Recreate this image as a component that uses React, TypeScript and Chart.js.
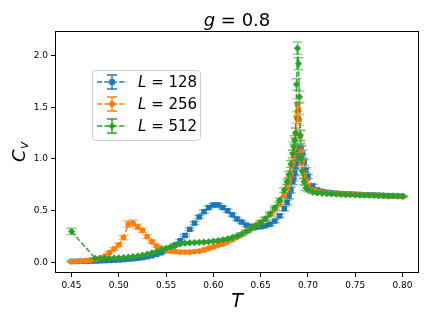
import React, { useEffect, useRef } from "react";
import { Chart, registerables } from "chart.js";
Chart.register(...registerables);

// Temperatures (shared grid)
const T = [
  0.450, 0.455, 0.460, 0.465, 0.470, 0.475, 0.480, 0.485, 0.490, 0.495,
  0.500, 0.505, 0.510, 0.515, 0.520, 0.525, 0.530, 0.535, 0.540, 0.545,
  0.550, 0.555, 0.560, 0.565, 0.570, 0.575, 0.580, 0.585, 0.590, 0.595,
  0.600, 0.605, 0.610, 0.615, 0.620, 0.625, 0.630, 0.635, 0.640, 0.645,
  0.650, 0.655, 0.660, 0.665, 0.670, 0.675,
  0.678, 0.680, 0.682, 0.684, 0.685, 0.686, 0.687, 0.688, 0.689, 0.690,
  0.691, 0.692, 0.693, 0.694, 0.696, 0.698, 0.700,
  0.705, 0.710, 0.715, 0.720, 0.725, 0.730, 0.735, 0.740, 0.745, 0.750,
  0.755, 0.760, 0.765, 0.770, 0.775, 0.780, 0.785, 0.790, 0.795, 0.800,
];

// L = 128
const CV_128 = [
  0.010, 0.010, 0.011, 0.012, 0.013, 0.014, 0.016, 0.018, 0.020, 0.022,
  0.025, 0.028, 0.032, 0.036, 0.041, 0.047, 0.055, 0.065, 0.078, 0.095,
  0.115, 0.140, 0.170, 0.210, 0.260, 0.320, 0.380, 0.440, 0.490, 0.530,
  0.555, 0.555, 0.530, 0.500, 0.460, 0.420, 0.390, 0.360, 0.345, 0.340,
  0.345, 0.355, 0.370, 0.400, 0.450, 0.520,
  0.580, 0.640, 0.700, 0.780, 0.820, 0.870, 0.930, 0.980, 1.030, 1.070,
  1.100, 1.110, 1.090, 1.050, 0.970, 0.890, 0.830,
  0.740, 0.700, 0.685, 0.678, 0.672, 0.668, 0.665, 0.662, 0.660, 0.658,
  0.656, 0.654, 0.652, 0.650, 0.648, 0.646, 0.644, 0.642, 0.640, 0.638,
];
const ERR_128 = [
  0.004, 0.004, 0.004, 0.004, 0.004, 0.004, 0.004, 0.004, 0.004, 0.004,
  0.005, 0.005, 0.005, 0.005, 0.005, 0.005, 0.005, 0.006, 0.007, 0.008,
  0.008, 0.009, 0.010, 0.011, 0.012, 0.013, 0.014, 0.014, 0.015, 0.015,
  0.015, 0.015, 0.014, 0.014, 0.013, 0.013, 0.012, 0.012, 0.012, 0.012,
  0.012, 0.012, 0.013, 0.014, 0.016, 0.020,
  0.022, 0.025, 0.028, 0.030, 0.032, 0.034, 0.036, 0.038, 0.040, 0.042,
  0.042, 0.040, 0.038, 0.036, 0.030, 0.025, 0.020,
  0.015, 0.012, 0.010, 0.010, 0.009, 0.009, 0.009, 0.009, 0.008, 0.008,
  0.008, 0.008, 0.008, 0.008, 0.008, 0.008, 0.008, 0.008, 0.008, 0.008,
];

// L = 256
const CV_256 = [
  0.008, 0.010, 0.013, 0.017, 0.022, 0.030, 0.042, 0.060, 0.095, 0.130,
  0.170, 0.240, 0.370, 0.380, 0.345, 0.310, 0.250, 0.200, 0.160, 0.135,
  0.120, 0.110, 0.105, 0.100, 0.100, 0.100, 0.105, 0.110, 0.120, 0.135,
  0.150, 0.165, 0.180, 0.200, 0.220, 0.245, 0.270, 0.300, 0.330, 0.360,
  0.390, 0.420, 0.460, 0.510, 0.570, 0.650,
  0.720, 0.780, 0.860, 0.960, 1.020, 1.100, 1.250, 1.400, 1.520, 1.480,
  1.380, 1.220, 1.080, 0.970, 0.850, 0.780, 0.740,
  0.700, 0.685, 0.677, 0.672, 0.668, 0.665, 0.662, 0.660, 0.658, 0.656,
  0.654, 0.652, 0.650, 0.648, 0.646, 0.644, 0.642, 0.640, 0.638, 0.636,
];
const ERR_256 = [
  0.004, 0.004, 0.004, 0.005, 0.005, 0.006, 0.007, 0.008, 0.010, 0.012,
  0.015, 0.020, 0.030, 0.030, 0.025, 0.022, 0.018, 0.015, 0.012, 0.010,
  0.009, 0.008, 0.008, 0.008, 0.008, 0.008, 0.008, 0.008, 0.009, 0.009,
  0.010, 0.010, 0.011, 0.011, 0.012, 0.012, 0.013, 0.013, 0.014, 0.014,
  0.015, 0.016, 0.017, 0.018, 0.020, 0.022,
  0.025, 0.028, 0.032, 0.036, 0.040, 0.044, 0.050, 0.055, 0.060, 0.058,
  0.055, 0.050, 0.045, 0.040, 0.032, 0.025, 0.020,
  0.015, 0.012, 0.010, 0.010, 0.009, 0.009, 0.009, 0.009, 0.008, 0.008,
  0.008, 0.008, 0.008, 0.008, 0.008, 0.008, 0.008, 0.008, 0.008, 0.008,
];

// L = 512
const CV_512 = [
  0.300, null, null, null, null, 0.040, 0.040, 0.040, 0.040, 0.042,
  0.044, 0.047, 0.051, 0.056, 0.062, 0.070, 0.080, 0.092, 0.105, 0.120,
  0.135, 0.150, 0.165, 0.178, 0.186, 0.190, 0.192, 0.194, 0.196, 0.200,
  0.205, 0.210, 0.218, 0.228, 0.240, 0.255, 0.275, 0.300, 0.325, 0.355,
  0.385, 0.420, 0.470, 0.530, 0.600, 0.700,
  0.780, 0.850, 0.950, 1.050, 1.120, 1.180, 1.250, 1.720, 2.070, 1.920,
  1.600, 1.230, 1.000, 0.880, 0.780, 0.720, 0.700,
  0.680, 0.672, 0.668, 0.665, 0.662, 0.660, 0.658, 0.656, 0.654, 0.652,
  0.650, 0.649, 0.648, 0.647, 0.646, 0.645, 0.644, 0.643, 0.642, 0.640,
];
const ERR_512 = [
  0.030, null, null, null, null, 0.006, 0.006, 0.006, 0.006, 0.006,
  0.006, 0.006, 0.006, 0.006, 0.007, 0.007, 0.007, 0.008, 0.008, 0.009,
  0.009, 0.010, 0.010, 0.010, 0.010, 0.010, 0.010, 0.010, 0.010, 0.010,
  0.010, 0.010, 0.011, 0.011, 0.012, 0.012, 0.013, 0.013, 0.014, 0.014,
  0.015, 0.016, 0.017, 0.018, 0.020, 0.022,
  0.025, 0.028, 0.032, 0.036, 0.040, 0.044, 0.048, 0.055, 0.060, 0.058,
  0.055, 0.050, 0.040, 0.034, 0.028, 0.022, 0.018,
  0.014, 0.012, 0.010, 0.010, 0.009, 0.009, 0.009, 0.009, 0.008, 0.008,
  0.008, 0.008, 0.008, 0.008, 0.008, 0.008, 0.008, 0.008, 0.008, 0.008,
];

const SIZES = ["128", "256", "512"];
const X_TICKS = [0.45, 0.5, 0.55, 0.6, 0.65, 0.7, 0.75, 0.8];
const Y_TICKS = [0.0, 0.5, 1.0, 1.5, 2.0];
const X_RANGE = [0.4325, 0.8175];
const Y_RANGE = [-0.102, 2.236];
const TITLE_VAR = "g";
const TITLE_VALUE = "0.8";

const FONT = '"DejaVu Sans", sans-serif';

function drawMarker(ctx: CanvasRenderingContext2D, style: string, x: number, y: number, r: number, color: string) {
  ctx.save();
  ctx.fillStyle = color;
  ctx.beginPath();
  if (style === "rect") {
    const s = r * Math.SQRT1_2;
    ctx.rect(x - s, y - s, 2 * s, 2 * s);
  } else if (style === "rectRot") {
    ctx.moveTo(x - r, y);
    ctx.lineTo(x, y - r);
    ctx.lineTo(x + r, y);
    ctx.lineTo(x, y + r);
    ctx.closePath();
  } else {
    ctx.arc(x, y, r, 0, Math.PI * 2);
  }
  ctx.fill();
  ctx.restore();
}

export default function App() {
  const ref = useRef<HTMLCanvasElement>(null);

  useEffect(() => {
    const canvas = ref.current;
    if (!canvas) return;

    const series = [
      { label: SIZES[0], c: CV_128, e: ERR_128, color: "#1f77b4", errColor: "rgba(31,119,180,0.55)", style: "rect", r: 3.9 },
      { label: SIZES[1], c: CV_256, e: ERR_256, color: "#ff7f0e", errColor: "rgba(255,127,14,0.55)", style: "circle", r: 2.9 },
      { label: SIZES[2], c: CV_512, e: ERR_512, color: "#2ca02c", errColor: "rgba(44,160,44,0.55)", style: "rectRot", r: 3.6 },
    ];

    const datasets = series.map((s, k) => ({
      label: s.label,
      data: T.map((t, i) => ({ x: t, y: s.c[i] as number, e: s.e[i] as number })).filter((p) => p.y !== null),
      borderColor: s.color,
      backgroundColor: s.color,
      borderWidth: 1.4,
      borderDash: [5.2, 2.2],
      pointStyle: s.style,
      pointRadius: s.r,
      pointHoverRadius: s.r,
      pointBorderWidth: 0,
      tension: 0,
      order: 3 - k,
    }));

    const errorBars = {
      id: "errorBars",
      afterDatasetDraw(chart: any, args: any) {
        const s = series[args.index];
        const ds = chart.data.datasets[args.index];
        const xs = chart.scales.x;
        const ys = chart.scales.y;
        const ctx = chart.ctx;
        const a = chart.chartArea;
        ctx.save();
        ctx.beginPath();
        ctx.rect(a.left, a.top, a.right - a.left, a.bottom - a.top);
        ctx.clip();
        ctx.strokeStyle = s.errColor;
        ctx.lineWidth = 1.4;
        const cap = 5;
        for (const p of ds.data) {
          const px = xs.getPixelForValue(p.x);
          const y1 = ys.getPixelForValue(p.y - p.e);
          const y2 = ys.getPixelForValue(p.y + p.e);
          ctx.beginPath();
          ctx.moveTo(px, y1);
          ctx.lineTo(px, y2);
          ctx.moveTo(px - cap, y1);
          ctx.lineTo(px + cap, y1);
          ctx.moveTo(px - cap, y2);
          ctx.lineTo(px + cap, y2);
          ctx.stroke();
        }
        ctx.restore();
      },
    };

    const decorations = {
      id: "decorations",
      afterDraw(chart: any) {
        const ctx = chart.ctx as CanvasRenderingContext2D;
        const a = chart.chartArea;
        ctx.save();
        // frame
        ctx.strokeStyle = "#000";
        ctx.lineWidth = 1;
        ctx.strokeRect(Math.round(a.left) + 0.5, Math.round(a.top) + 0.5, Math.round(a.right - a.left) - 1, Math.round(a.bottom - a.top) - 1);

        // title
        ctx.fillStyle = "#000";
        ctx.textBaseline = "alphabetic";
        ctx.textAlign = "left";
        ctx.font = `italic 18px ${FONT}`;
        const gw = ctx.measureText(TITLE_VAR).width;
        ctx.font = `18px ${FONT}`;
        const rest = " = " + TITLE_VALUE;
        const rw = ctx.measureText(rest).width;
        const cx = (a.left + a.right) / 2;
        const tx = cx - (gw + rw) / 2;
        ctx.font = `italic 18px ${FONT}`;
        ctx.fillText(TITLE_VAR, tx, 26);
        ctx.font = `18px ${FONT}`;
        ctx.fillText(rest, tx + gw, 26);

        // x label
        ctx.font = `italic 19px ${FONT}`;
        ctx.textAlign = "center";
        ctx.fillText("T", cx, 306.5);

        // y label (C_v)
        ctx.save();
        ctx.translate(25, 162);
        ctx.rotate(-Math.PI / 2);
        ctx.textAlign = "left";
        ctx.font = `italic 18px ${FONT}`;
        ctx.fillText("C", 0, 0);
        const cw = ctx.measureText("C").width;
        ctx.font = `italic 12.5px ${FONT}`;
        ctx.fillText("v", cw + 0.5, 3);
        ctx.restore();

        // legend
        const lx = 92, ly = 70, lw = 108, lh = 70;
        ctx.beginPath();
        ctx.roundRect(lx + 0.5, ly + 0.5, lw, lh, 3);
        ctx.fillStyle = "rgba(255,255,255,0.8)";
        ctx.fill();
        ctx.strokeStyle = "#cccccc";
        ctx.lineWidth = 1;
        ctx.stroke();
        const rows = [82, 104, 126];
        series.forEach((s, k) => {
          const y = rows[k];
          ctx.save();
          ctx.strokeStyle = s.color;
          ctx.lineWidth = 1.4;
          ctx.setLineDash([5.2, 2.2]);
          ctx.beginPath();
          ctx.moveTo(97, y);
          ctx.lineTo(127, y);
          ctx.stroke();
          ctx.setLineDash([]);
          ctx.strokeStyle = s.color;
          ctx.beginPath();
          ctx.moveTo(112, y - 7);
          ctx.lineTo(112, y + 7);
          ctx.moveTo(107, y - 7);
          ctx.lineTo(117, y - 7);
          ctx.moveTo(107, y + 7);
          ctx.lineTo(117, y + 7);
          ctx.stroke();
          ctx.restore();
          drawMarker(ctx, s.style, 112, y, s.r, s.color);
          ctx.fillStyle = "#000";
          ctx.textAlign = "left";
          ctx.textBaseline = "middle";
          ctx.font = `italic 15px ${FONT}`;
          ctx.fillText("L", 138, y + 1);
          const lw2 = ctx.measureText("L").width;
          ctx.font = `15px ${FONT}`;
          ctx.fillText(" = " + s.label, 138 + lw2, y + 1);
        });
        ctx.restore();
      },
    };

    const chart = new Chart(canvas, {
      type: "line",
      data: { datasets: datasets as any },
      options: {
        animation: false,
        responsive: false,
        devicePixelRatio: 1,
        events: [],
        layout: { padding: { top: 31, right: 10, left: 0, bottom: 0 } },
        plugins: { legend: { display: false }, tooltip: { enabled: false }, title: { display: false } },
        scales: {
          x: {
            type: "linear",
            min: X_RANGE[0],
            max: X_RANGE[1],
            afterBuildTicks: (sc: any) => {
              sc.ticks = X_TICKS.map((v) => ({ value: v }));
            },
            afterFit: (sc: any) => {
              sc.height = 49;
            },
            ticks: {
              autoSkip: false,
              maxRotation: 0,
              padding: 3,
              color: "#000",
              font: { family: FONT, size: 9 },
              callback: (v: any) => Number(v).toFixed(2),
            },
            grid: { drawOnChartArea: false, drawTicks: true, tickLength: 4, color: "#000", lineWidth: 1 },
            border: { display: false },
          },
          y: {
            type: "linear",
            min: Y_RANGE[0],
            max: Y_RANGE[1],
            afterBuildTicks: (sc: any) => {
              sc.ticks = Y_TICKS.map((v) => ({ value: v }));
            },
            afterFit: (sc: any) => {
              sc.width = 55;
            },
            ticks: {
              padding: 3,
              color: "#000",
              font: { family: FONT, size: 9 },
              callback: (v: any) => Number(v).toFixed(1),
            },
            grid: { drawOnChartArea: false, drawTicks: true, tickLength: 4, color: "#000", lineWidth: 1 },
            border: { display: false },
          },
        },
      },
      plugins: [errorBars, decorations],
    });

    return () => chart.destroy();
  }, []);

  return (
    <div style={{ position: "absolute", left: 0, top: 0, width: 429, height: 322, background: "#fff" }}>
      <canvas ref={ref} width={429} height={322} style={{ display: "block" }} />
    </div>
  );
}
